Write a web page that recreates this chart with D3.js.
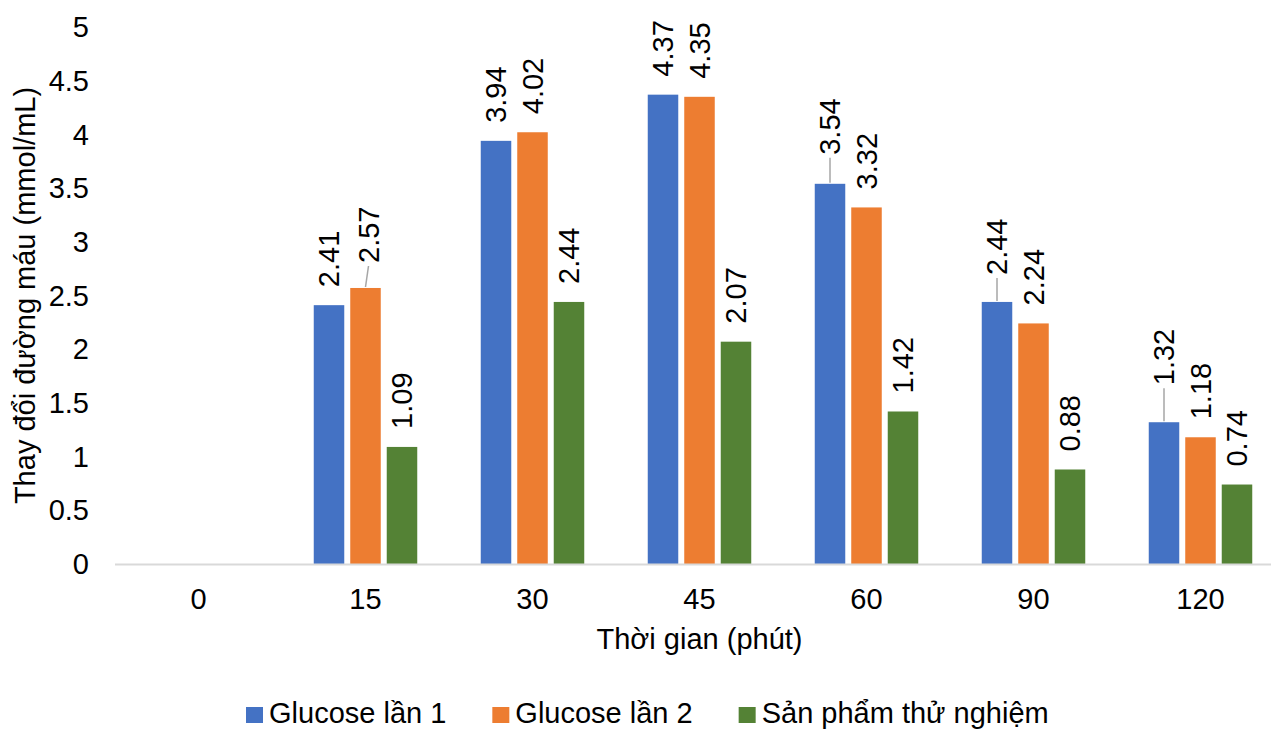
<!DOCTYPE html>
<html>
<head>
<meta charset="utf-8">
<script src="https://cdn.jsdelivr.net/npm/d3@7"></script>
<style>
  html, body { margin: 0; padding: 0; background: #ffffff; }
  svg { display: block; }
  text { font-family: "Liberation Sans", Arial, sans-serif; fill: #000; }
</style>
</head>
<body>
<svg id="chart" width="1271" height="729"></svg>
<script>
// ---- data ----
const categories = ["0", "15", "30", "45", "60", "90", "120"];
const seriesNames = ["Glucose lần 1", "Glucose lần 2", "Sản phẩm thử nghiệm"];
const glucose1 = [null, 2.41, 3.94, 4.37, 3.54, 2.44, 1.32];
const glucose2 = [null, 2.57, 4.02, 4.35, 3.32, 2.24, 1.18];
const product  = [null, 1.09, 2.44, 2.07, 1.42, 0.88, 0.74];
const yTicks = [0, 0.5, 1, 1.5, 2, 2.5, 3, 3.5, 4, 4.5, 5];
const xTitle = "Thời gian (phút)";
const yTitle = "Thay đổi đường máu (mmol/mL)";

// ---- styling / layout ----
const colors = ["#4472C4", "#ED7D31", "#548235"];
// labels that were moved up (with leader line): [seriesIndex, categoryIndex, extra px]
const labelNudges = [[1, 1, 7], [0, 4, 11], [0, 5, 9], [0, 6, 19]];

const svg = d3.select("#chart");
const plot = { left: 115, right: 1284, top: 27, bottom: 564 };

const x0 = d3.scaleBand().domain(categories).range([plot.left, plot.right]);
const x1 = d3.scaleBand().domain([0, 1, 2]).range([-51.75, 51.75]).paddingInner(0.164);
const y = d3.scaleLinear().domain([0, 5]).range([plot.bottom, plot.top]);

const allSeries = [glucose1, glucose2, product];

// y tick labels
svg.append("g").selectAll("text").data(yTicks).join("text")
  .attr("x", 89).attr("y", d => y(d)).attr("dy", "0.35em")
  .attr("text-anchor", "end").attr("font-size", 29)
  .text(d => d);

// bars
allSeries.forEach((vals, si) => {
  const g = svg.append("g");
  vals.forEach((v, ci) => {
    if (v == null) return;
    const cx = x0(categories[ci]) + x0.bandwidth() / 2;
    g.append("rect")
      .attr("x", cx + x1(si)).attr("width", x1.bandwidth())
      .attr("y", y(v)).attr("height", y(0) - y(v))
      .attr("fill", colors[si]);
  });
});

// x axis line
svg.append("line")
  .attr("x1", plot.left).attr("x2", 1271)
  .attr("y1", plot.bottom + 0.5).attr("y2", plot.bottom + 0.5)
  .attr("stroke", "#d9d9d9").attr("stroke-width", 2);

// x tick labels
svg.append("g").selectAll("text").data(categories).join("text")
  .attr("x", d => x0(d) + x0.bandwidth() / 2).attr("y", 609)
  .attr("text-anchor", "middle").attr("font-size", 29)
  .text(d => d);

// data labels
const baseGap = 18;
allSeries.forEach((vals, si) => {
  vals.forEach((v, ci) => {
    if (v == null) return;
    const cx = x0(categories[ci]) + x0.bandwidth() / 2 + x1(si) + x1.bandwidth() / 2;
    const nudge = labelNudges.find(n => n[0] === si && n[1] === ci);
    const extra = nudge ? nudge[2] : 0;
    const ly = y(v) - baseGap - extra;
    const lx = cx + (nudge && si === 1 ? 3 : 0);
    if (nudge) {
      svg.append("line")
        .attr("x1", cx).attr("y1", y(v) - 1)
        .attr("x2", lx).attr("y2", ly + 3)
        .attr("stroke", "#a6a6a6").attr("stroke-width", 1.5);
    }
    svg.append("text")
      .attr("transform", `translate(${lx},${ly}) rotate(-90)`)
      .attr("dy", "0.35em").attr("text-anchor", "start")
      .attr("font-size", 29)
      .text(v.toFixed(2));
  });
});

// axis titles
svg.append("text")
  .attr("x", (plot.left + plot.right) / 2).attr("y", 649)
  .attr("text-anchor", "middle").attr("font-size", 29)
  .text(xTitle);
svg.append("text")
  .attr("transform", `translate(35,${(plot.top + plot.bottom) / 2}) rotate(-90)`)
  .attr("text-anchor", "middle").attr("font-size", 29)
  .text(yTitle);

// legend
const legend = svg.append("g");
let lx = 246;
seriesNames.forEach((name, i) => {
  legend.append("rect").attr("x", lx).attr("y", 707).attr("width", 17).attr("height", 16)
    .attr("fill", colors[i]);
  const t = legend.append("text").attr("x", lx + 23).attr("y", 723)
    .attr("font-size", 29).text(name);
  lx = lx + 23 + t.node().getComputedTextLength() + 46;
});
</script>
</body>
</html>
